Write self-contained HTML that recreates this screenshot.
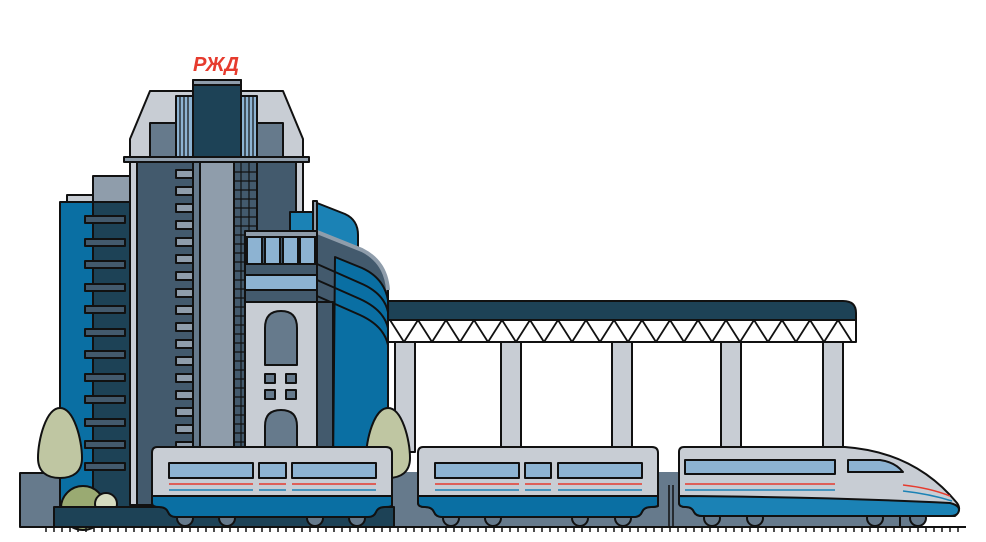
<!DOCTYPE html>
<html><head><meta charset="utf-8"><style>html,body{margin:0;padding:0;background:#fff}svg{display:block}</style></head>
<body>
<svg width="986" height="542" viewBox="0 0 986 542" xmlns="http://www.w3.org/2000/svg" stroke="#111" stroke-width="2" stroke-linejoin="round">
<!-- logo -->
<text x="216" y="71" font-family="Liberation Sans, sans-serif" font-weight="bold" font-style="italic" font-size="20" fill="#e63b2e" stroke="none" text-anchor="middle" textLength="46" lengthAdjust="spacingAndGlyphs">РЖД</text>

<!-- bridge -->
<path d="M380,301 H843 Q856,301 856,313 V320 H380 Z" fill="#1d4256"/>
<rect x="380" y="320" width="476" height="22" fill="#fff"/>
<path d="M390,320 L404,342 L418,320 L432,342 L446,320 L460,342 L474,320 L488,342 L502,320 L516,342 L530,320 L544,342 L558,320 L572,342 L586,320 L600,342 L614,320 L628,342 L642,320 L656,342 L670,320 L684,342 L698,320 L712,342 L726,320 L740,342 L754,320 L768,342 L782,320 L796,342 L810,320 L824,342 L838,320 L852,342" fill="none" stroke-width="1.8"/>
<g fill="#c8cdd4">
<rect x="395" y="342" width="20" height="110"/>
<rect x="501" y="342" width="20" height="110"/>
<rect x="612" y="342" width="20" height="110"/>
<rect x="721" y="342" width="20" height="110"/>
<rect x="823" y="342" width="20" height="110"/>
</g>

<!-- left low building -->
<rect x="20" y="473" width="42" height="54" fill="#667a8c"/>
<!-- fence/gray backdrop -->
<rect x="380" y="472" width="540" height="55" fill="#667a8c" stroke="none"/>

<!-- left building -->
<rect x="67" y="195" width="30" height="8" fill="#c8cdd4"/>
<rect x="93" y="176" width="40" height="26" fill="#8f9dab"/>
<rect x="60" y="202" width="36" height="305" fill="#0a6fa3"/>
<rect x="93" y="202" width="40" height="305" fill="#1d4256"/>
<g fill="#435a6d">
<rect x="85" y="216" width="40" height="7"/><rect x="85" y="239" width="40" height="7"/><rect x="85" y="261" width="40" height="7"/><rect x="85" y="284" width="40" height="7"/><rect x="85" y="306" width="40" height="7"/><rect x="85" y="329" width="40" height="7"/><rect x="85" y="351" width="40" height="7"/><rect x="85" y="374" width="40" height="7"/><rect x="85" y="396" width="40" height="7"/><rect x="85" y="419" width="40" height="7"/><rect x="85" y="441" width="40" height="7"/><rect x="85" y="463" width="40" height="7"/>
</g>

<!-- main tower hull -->
<path d="M150,91 H283 L303,139 V505 H130 V139 Z" fill="#c8cdd4"/>
<rect x="150" y="123" width="133" height="36" fill="#667a8c"/>
<rect x="176" y="96" width="81" height="62" fill="#8db3d2"/>
<g stroke-width="1.2"><path d="M180,96V158M184,96V158M188,96V158M245,96V158M249,96V158M253,96V158"/></g>
<rect x="193" y="80" width="48" height="79" fill="#1d4256"/>
<rect x="193" y="80" width="48" height="5" fill="#8f9dab"/>
<rect x="124" y="157" width="185" height="5" fill="#8f9dab"/>
<rect x="137" y="162" width="159" height="343" fill="#435a6d"/>
<rect x="193" y="162" width="8" height="343" fill="#667a8c"/>
<rect x="200" y="162" width="34" height="343" fill="#8f9dab"/>
<rect x="234" y="162" width="23" height="343" fill="#435a6d"/>
<g stroke-width="1.2"><path d="M241,162V505M249,162V505"/>
<path d="M234,172H257M234,181H257M234,190H257M234,199H257M234,208H257M234,217H257M234,226H257M234,235H257M234,244H257M234,253H257M234,262H257M234,271H257M234,280H257M234,289H257M234,298H257M234,307H257M234,316H257M234,325H257M234,334H257M234,343H257M234,352H257M234,361H257M234,370H257M234,379H257M234,388H257M234,397H257M234,406H257M234,415H257M234,424H257M234,433H257M234,442H257M234,451H257M234,460H257"/></g>
<g fill="#8f9dab">
<rect x="176" y="170" width="17" height="8"/><rect x="176" y="187" width="17" height="8"/><rect x="176" y="204" width="17" height="8"/><rect x="176" y="221" width="17" height="8"/><rect x="176" y="238" width="17" height="8"/><rect x="176" y="255" width="17" height="8"/><rect x="176" y="272" width="17" height="8"/><rect x="176" y="289" width="17" height="8"/><rect x="176" y="306" width="17" height="8"/><rect x="176" y="323" width="17" height="8"/><rect x="176" y="340" width="17" height="8"/><rect x="176" y="357" width="17" height="8"/><rect x="176" y="374" width="17" height="8"/><rect x="176" y="391" width="17" height="8"/><rect x="176" y="408" width="17" height="8"/><rect x="176" y="425" width="17" height="8"/><rect x="176" y="442" width="17" height="8"/>
</g>

<!-- right blue curved building -->
<rect x="290" y="212" width="28" height="22" fill="#1b82b5"/>
<path d="M317,203 L345,214 Q358,220 358,235 L358,250 L317,250 Z" fill="#1b82b5"/>
<rect x="313" y="201" width="4" height="35" fill="#8f9dab"/>
<path d="M317,232 L362,250 Q386,262 388,290 L388,470 L317,470 Z" fill="#435a6d"/>
<path d="M335,257 L362,268 Q384,278 388,300 L388,470 L333,470 Z" fill="#0a6fa3"/>
<path d="M317,264 L360,283 Q384,293 388,312" fill="none"/>
<path d="M317,280 L360,299 Q384,310 388,328" fill="none"/>
<path d="M317,296 L360,315 Q384,326 388,345" fill="none"/>
<path d="M317,232 L362,250 Q386,262 388,290" fill="none" stroke="#8f9dab" stroke-width="4"/>

<!-- middle building -->
<rect x="245" y="231" width="72" height="6" fill="#8f9dab"/>
<rect x="245" y="237" width="72" height="27" fill="#435a6d"/>
<g fill="#8db3d2"><rect x="247" y="237" width="15" height="27"/><rect x="265" y="237" width="15" height="27"/><rect x="283" y="237" width="15" height="27"/><rect x="300" y="237" width="15" height="27"/></g>
<rect x="245" y="264" width="72" height="11" fill="#435a6d"/>
<rect x="245" y="275" width="72" height="15" fill="#8db3d2"/>
<rect x="245" y="290" width="72" height="12" fill="#435a6d"/>
<rect x="245" y="302" width="72" height="168" fill="#c8cdd4"/>
<rect x="317" y="302" width="16" height="168" fill="#435a6d"/>
<path d="M265,365 V328 Q265,311 281,311 Q297,311 297,328 V365 Z" fill="#667a8c"/>
<g fill="#667a8c"><rect x="265" y="374" width="10" height="9"/><rect x="286" y="374" width="10" height="9"/><rect x="265" y="390" width="10" height="9"/><rect x="286" y="390" width="10" height="9"/></g>
<path d="M265,470 V426 Q265,410 281,410 Q297,410 297,426 V470 Z" fill="#667a8c"/>

<!-- trees -->
<path d="M60,408 C74,408 82,440 82,458 C82,472 73,478 60,478 C47,478 38,472 38,458 C38,440 46,408 60,408 Z" fill="#bfc6a2"/>
<path d="M60,478 V507" fill="none"/>
<path d="M388,408 C402,408 410,440 410,458 C410,472 401,478 388,478 C375,478 366,472 366,458 C366,440 374,408 388,408 Z" fill="#bfc6a2"/>
<circle cx="83" cy="508" r="22" fill="#9aaa72"/>
<circle cx="106" cy="504" r="11" fill="#d5dcc0"/>

<!-- platform -->
<rect x="54" y="507" width="340" height="20" fill="#1d4256"/>
<rect x="900" y="505" width="18" height="22" fill="#667a8c"/>

<!-- wheels -->
<g fill="#667a8c">
<circle cx="185" cy="518" r="8"/><circle cx="227" cy="518" r="8"/><circle cx="315" cy="518" r="8"/><circle cx="357" cy="518" r="8"/>
<circle cx="451" cy="518" r="8"/><circle cx="493" cy="518" r="8"/><circle cx="580" cy="518" r="8"/><circle cx="623" cy="518" r="8"/>
<circle cx="712" cy="518" r="8"/><circle cx="755" cy="518" r="8"/><circle cx="875" cy="518" r="8"/><circle cx="918" cy="518" r="8"/>
</g>

<!-- train car 1 -->
<path d="M157,447 H386 Q392,447 392,453 V506 Q392,507 385,507 Q378,507 376,512 Q374,517 368,517 H176 Q170,517 168,512 Q166,507 159,507 Q152,507 152,503 V453 Q152,447 157,447 Z" fill="#c8cdd4"/>
<path d="M152,496 H392 V505 Q392,507 385,507 Q378,507 376,512 Q374,517 368,517 H176 Q170,517 168,512 Q166,507 159,507 Q152,507 152,503 Z" fill="#0a6fa3"/>
<g fill="#8db3d2"><rect x="169" y="463" width="84" height="15"/><rect x="259" y="463" width="27" height="15"/><rect x="292" y="463" width="84" height="15"/></g>
<path d="M169,484H253M259,484H286M292,484H376" stroke="#e63b2e" stroke-width="1.5"/>
<path d="M169,490H253M259,490H286M292,490H376" stroke="#1b82b5" stroke-width="1.5"/>

<!-- train car 2 -->
<path d="M423,447 H652 Q658,447 658,453 V506 Q658,507 651,507 Q644,507 642,512 Q640,517 634,517 H442 Q436,517 434,512 Q432,507 425,507 Q418,507 418,503 V453 Q418,447 423,447 Z" fill="#c8cdd4"/>
<path d="M418,496 H658 V505 Q658,507 651,507 Q644,507 642,512 Q640,517 634,517 H442 Q436,517 434,512 Q432,507 425,507 Q418,507 418,503 Z" fill="#0a6fa3"/>
<g fill="#8db3d2"><rect x="435" y="463" width="84" height="15"/><rect x="525" y="463" width="26" height="15"/><rect x="558" y="463" width="84" height="15"/></g>
<path d="M435,484H519M525,484H551M558,484H642" stroke="#e63b2e" stroke-width="1.5"/>
<path d="M435,490H519M525,490H551M558,490H642" stroke="#1b82b5" stroke-width="1.5"/>
<path d="M669,485V527M673,485V527" fill="none" stroke-width="1.5"/>

<!-- head car -->
<path d="M684,447 H845 Q915,452 957,503 Q962,510 955,516 H702 Q696,516 694,512 Q692,507 686,507 Q679,507 679,503 V452 Q679,447 684,447 Z" fill="#c8cdd4"/>
<path d="M679,496 Q830,497 950,503 Q962,506 958,513 Q956,516 950,516 H702 Q696,516 694,512 Q692,507 686,507 Q679,507 679,503 Z" fill="#1b82b5"/>
<rect x="685" y="460" width="150" height="14" fill="#8db3d2"/>
<path d="M848,460 H880 Q895,462 903,472 H848 Z" fill="#8db3d2"/>
<path d="M685,484H835" stroke="#e63b2e" stroke-width="1.5"/>
<path d="M685,490H835" stroke="#1b82b5" stroke-width="1.5"/>
<path d="M903,485 Q930,488 950,496" fill="none" stroke="#e63b2e" stroke-width="1.5"/>
<path d="M903,491 Q930,494 952,501" fill="none" stroke="#1b82b5" stroke-width="1.5"/>

<!-- track -->
<path d="M42,527 H966" fill="none" stroke-width="2"/>
<path d="M46,527v5M54,527v5M62,527v5M70,527v5M78,527v5M86,527v5M94,527v5M102,527v5M110,527v5M118,527v5M126,527v5M134,527v5M142,527v5M150,527v5M158,527v5M166,527v5M174,527v5M182,527v5M190,527v5M198,527v5M206,527v5M214,527v5M222,527v5M230,527v5M238,527v5M246,527v5M254,527v5M262,527v5M270,527v5M278,527v5M286,527v5M294,527v5M302,527v5M310,527v5M318,527v5M326,527v5M334,527v5M342,527v5M350,527v5M358,527v5M366,527v5M374,527v5M382,527v5M390,527v5M398,527v5M406,527v5M414,527v5M422,527v5M430,527v5M438,527v5M446,527v5M454,527v5M462,527v5M470,527v5M478,527v5M486,527v5M494,527v5M502,527v5M510,527v5M518,527v5M526,527v5M534,527v5M542,527v5M550,527v5M558,527v5M566,527v5M574,527v5M582,527v5M590,527v5M598,527v5M606,527v5M614,527v5M622,527v5M630,527v5M638,527v5M646,527v5M654,527v5M662,527v5M670,527v5M678,527v5M686,527v5M694,527v5M702,527v5M710,527v5M718,527v5M726,527v5M734,527v5M742,527v5M750,527v5M758,527v5M766,527v5M774,527v5M782,527v5M790,527v5M798,527v5M806,527v5M814,527v5M822,527v5M830,527v5M838,527v5M846,527v5M854,527v5M862,527v5M870,527v5M878,527v5M886,527v5M894,527v5M902,527v5M910,527v5M918,527v5M926,527v5M934,527v5M942,527v5M950,527v5M958,527v5" fill="none" stroke-width="1.5"/>
</svg>
</body></html>
